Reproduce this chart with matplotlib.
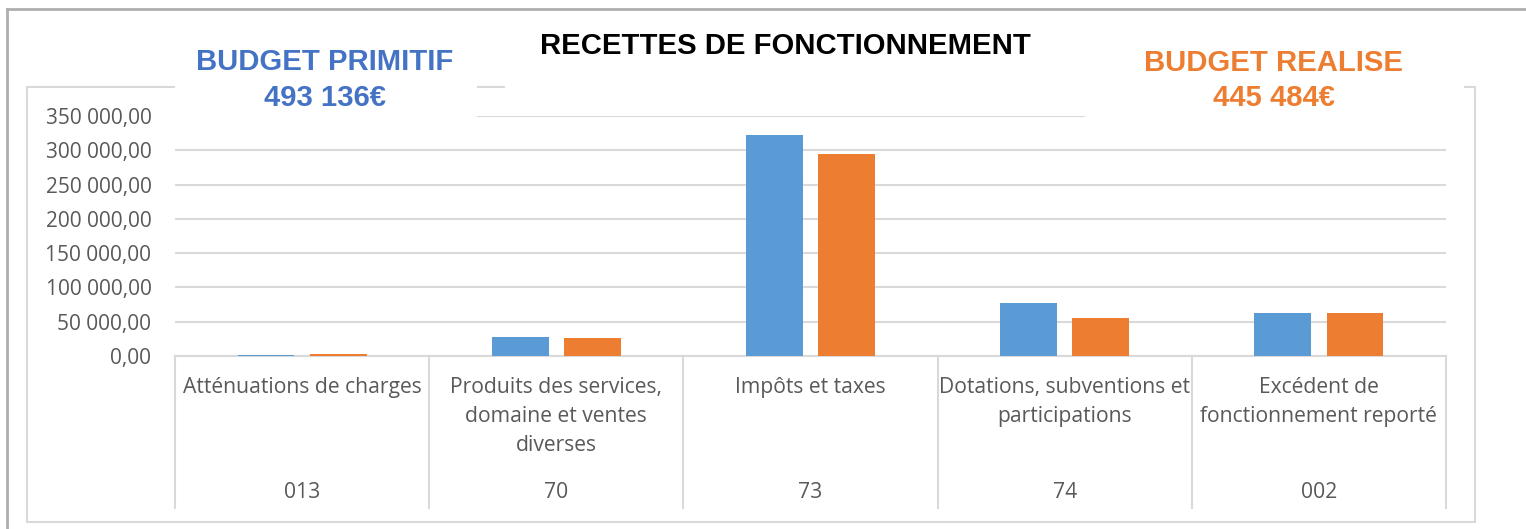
import numpy as np
import matplotlib.pyplot as plt
from matplotlib.patches import Rectangle
from matplotlib.lines import Line2D

# données
categories = ["Atténuations de charges",
              "Produits des services,\ndomaine et ventes\ndiverses",
              "Impôts et taxes",
              "Dotations, subventions et\nparticipations",
              "Excédent de\nfonctionnement reporté"]
codes = ["013", "70", "73", "74", "002"]
budget_primitif = [1000, 28000, 322000, 77000, 63000]
budget_realise = [3500, 26500, 294500, 55500, 63000]
yticks = [0, 50000, 100000, 150000, 200000, 250000, 300000, 350000]

W, H = 1526, 529
BLEU = '#5B9BD5'
ORANGE = '#ED7D31'
GRIS = '#D9D9D9'
TXT = '#595959'

plt.rcParams['font.family'] = ['Open Sans', 'DejaVu Sans']


def fx(px):
    return px / W


def fy(py):
    return 1 - py / H


def fmt(v):
    return f"{int(v):,}".replace(",", " ") + ",00"


fig = plt.figure(figsize=(W / 100, H / 100), dpi=100)

# axe principal
ax = fig.add_axes([fx(175), fy(356), fx(1446) - fx(175), fy(116) - fy(356)])
x = np.arange(len(categories))
ax.bar(x - 0.142, budget_primitif, width=0.224, color=BLEU, zorder=3)
ax.bar(x + 0.142, budget_realise, width=0.224, color=ORANGE, zorder=3)
ax.set_xlim(-0.5, len(categories) - 0.5)
ax.set_ylim(0, 350000)
ax.set_yticks(yticks)
ax.set_yticklabels([fmt(v) for v in yticks], fontsize=15, color=TXT)
ax.tick_params(axis='y', length=0, pad=17)
ax.set_xticks([])
ax.grid(axis='y', color=GRIS, linewidth=1.5, zorder=0)
for s in ['top', 'right', 'left']:
    ax.spines[s].set_visible(False)
ax.spines['bottom'].set_color(GRIS)
ax.spines['bottom'].set_linewidth(1.5)

# tableau des catégories sous l'axe
tab = fig.add_axes([fx(175), fy(508), fx(1446) - fx(175), fy(356) - fy(508)])
tab.set_xlim(-0.5, len(categories) - 0.5)
tab.set_ylim(508, 356)
tab.axis('off')
for b in np.arange(len(categories) + 1) - 0.5:
    tab.plot([b, b], [356, 508], color=GRIS, lw=1.5, clip_on=False)
for i, (c, code) in enumerate(zip(categories, codes)):
    tab.text(i, 377, c, ha='center', va='top', fontsize=15.2, color=TXT,
             linespacing=1.5)
    tab.text(i, 493, code, ha='center', va='center', fontsize=15.2, color=TXT)

# cadres
fig.add_artist(Line2D([fx(7), fx(7)], [fy(9), 0], color='#AFAFAF', lw=2))
fig.add_artist(Line2D([fx(7), 1], [fy(9), fy(9)], color='#AFAFAF', lw=2))
fig.add_artist(Rectangle((fx(27), fy(522)), fx(1475) - fx(27), fy(87) - fy(522),
                         transform=fig.transFigure, fill=False, edgecolor=GRIS,
                         lw=1.5, zorder=1))

# cartouches blancs et titres
for x0, x1, y1 in [(175, 477, 121), (505, 1085, 100), (1085, 1464, 121)]:
    fig.add_artist(Rectangle((fx(x0), fy(y1)), fx(x1) - fx(x0), fy(14) - fy(y1),
                             transform=fig.transFigure, facecolor='white',
                             edgecolor='none', zorder=2))

titre = dict(family=['Liberation Sans', 'DejaVu Sans'], weight='bold',
             fontsize=21.1, ha='center', va='center', zorder=4)
fig.text(fx(785), fy(46), "RECETTES DE FONCTIONNEMENT", color='black', **titre)
fig.text(fx(325), fy(62), "BUDGET PRIMITIF", color='#4472C4', **titre)
fig.text(fx(325), fy(98), "493 136€", color='#4472C4', **titre)
fig.text(fx(1274), fy(63), "BUDGET REALISE", color=ORANGE, **titre)
fig.text(fx(1274), fy(98), "445 484€", color=ORANGE, **titre)

fig.savefig("out.png", dpi=100)
